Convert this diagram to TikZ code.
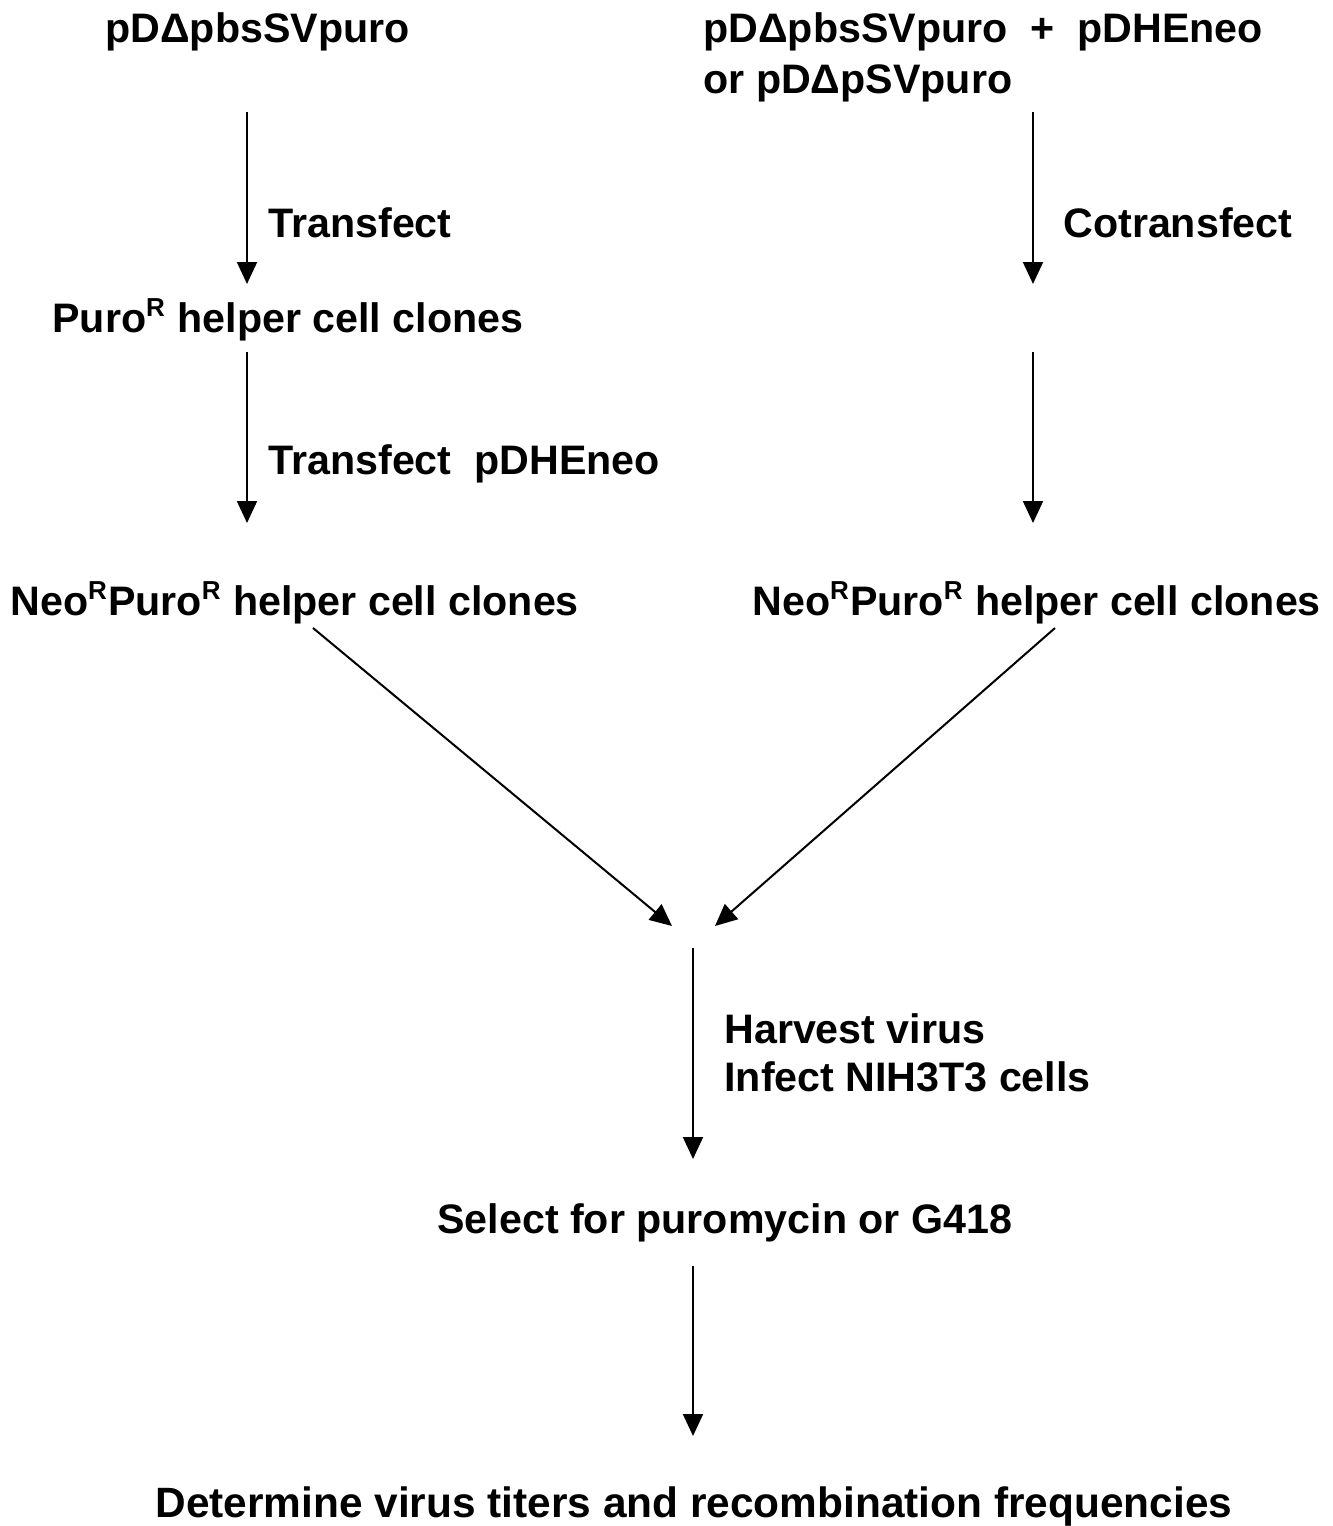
\documentclass[tikz,border=0pt]{standalone}
\usepackage{fontspec}
\setmainfont{Liberation Sans}
\usetikzlibrary{arrows.meta}
\begin{document}
\begin{tikzpicture}[x=0.5pt,y=-0.5pt,
  lbl/.style={anchor=base west,inner sep=0pt,font=\fontsize{20.6}{24}\selectfont\bfseries},
  arr/.style={line width=1pt,-{Triangle[length=11pt,width=10pt]}}]
\useasboundingbox (0,0) rectangle (1333,1526);
\newcommand{\supR}{\textsuperscript{\fontsize{13}{14}\selectfont R}}
% texts
\node[lbl] (t1) at (105,42) {pDΔpbsSVpuro};
\node[lbl] (t2) at (703,42) {pDΔpbsSVpuro\ \ +\ \ pDHEneo};
\node[lbl] (t3) at (703,93) {or pDΔpSVpuro};
\node[lbl] (l1) at (268,237) {Transfect};
\node[lbl] (l2) at (1063,237) {Cotransfect};
\node[lbl] (p1) at (52,332) {Puro\supR\ helper cell clones};
\node[lbl] (l3) at (268,474) {Transfect\ \ pDHEneo};
\node[lbl] (n1) at (10,615) {Neo\supR Puro\supR\ helper cell clones};
\node[lbl] (n2) at (752,615) {Neo\supR Puro\supR\ helper cell clones};
\node[lbl] (h1) at (724,1043) {Harvest virus};
\node[lbl] (h2) at (724,1091) {Infect NIH3T3 cells};
\node[lbl] (s1) at (437,1233) {Select for puromycin or G418};
\node[lbl,font=\fontsize{21.2}{24}\selectfont\bfseries] (d1) at (155,1517) {Determine virus titers and recombination frequencies};
% arrow endpoints
\coordinate (a1s) at (247,112); \coordinate (a1e) at (247,284);
\coordinate (a2s) at (247,352); \coordinate (a2e) at (247,523);
\coordinate (b1s) at (1033,112); \coordinate (b1e) at (1033,284);
\coordinate (b2s) at (1033,352); \coordinate (b2e) at (1033,523);
\coordinate (c1s) at (313,628); \coordinate (c1e) at (672,926);
\coordinate (c2s) at (1055,628); \coordinate (c2e) at (715,926);
\coordinate (d1s) at (693,948); \coordinate (d1e) at (693,1159);
\coordinate (d2s) at (693,1266); \coordinate (d2e) at (693,1436);
\draw[arr] (a1s) -- (a1e);
\draw[arr] (a2s) -- (a2e);
\draw[arr] (b1s) -- (b1e);
\draw[arr] (b2s) -- (b2e);
\draw[arr] (c1s) -- (c1e);
\draw[arr] (c2s) -- (c2e);
\draw[arr] (d1s) -- (d1e);
\draw[arr] (d2s) -- (d2e);
\end{tikzpicture}
\end{document}
